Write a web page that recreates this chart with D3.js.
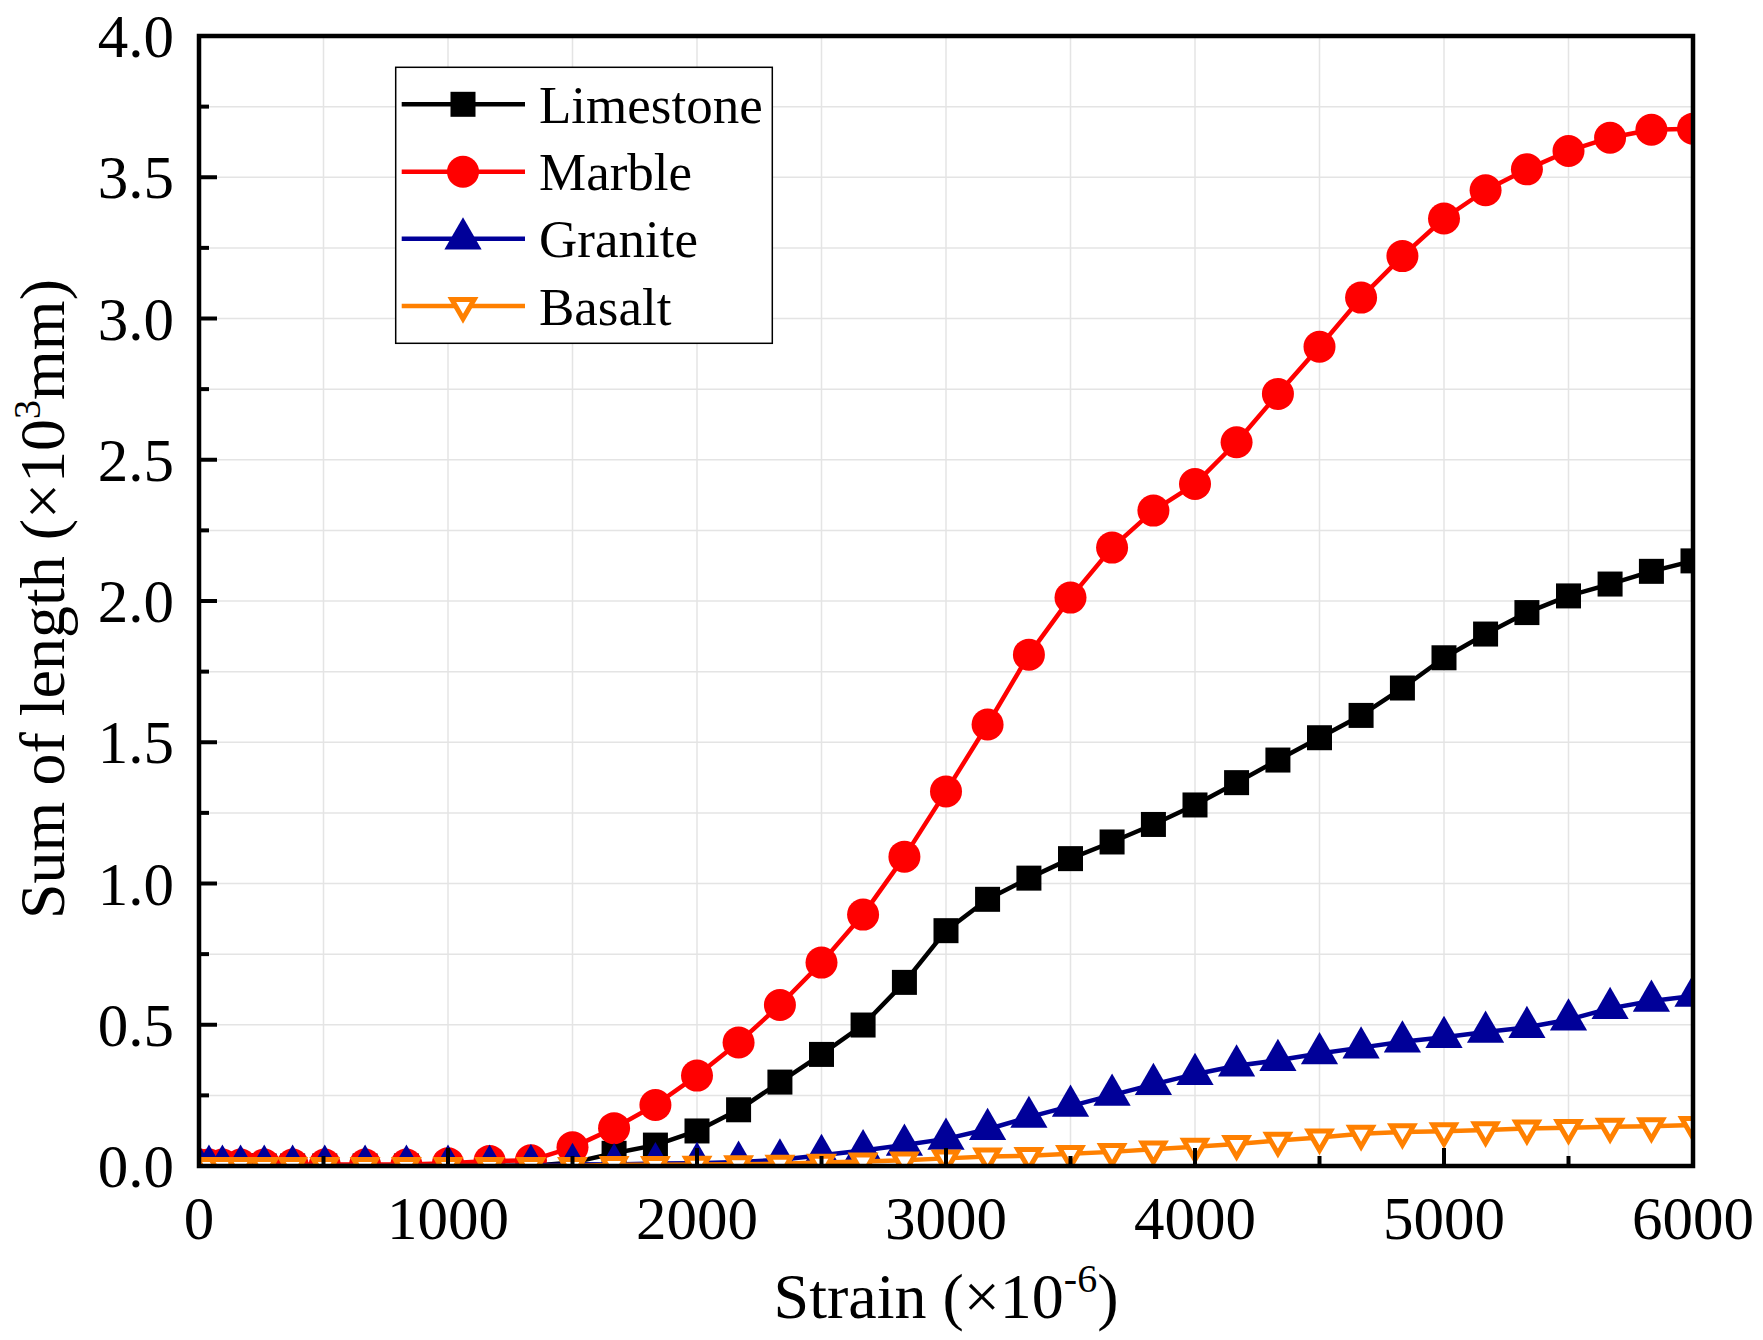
<!DOCTYPE html>
<html><head><meta charset="utf-8">
<script src="https://cdn.jsdelivr.net/npm/d3@7"></script>
<style>
body{margin:0;background:#fff}
svg{display:block}
text{font-family:"Liberation Serif","Times New Roman",serif;fill:#000}
</style>
</head><body>
<svg id="chart" width="1763" height="1340"></svg>
<script>
// ---- data ----
const strain = [0, 40, 94, 167, 262, 376, 505, 667, 833, 1000, 1167, 1333, 1500, 1667, 1833, 2000, 2167, 2333, 2500, 2667, 2833, 3000, 3167, 3333, 3500, 3667, 3833, 4000, 4167, 4333, 4500, 4667, 4833, 5000, 5167, 5333, 5500, 5667, 5833, 6000];
const limestone = [0, 0, 0, 0, 0, 0, 0, 0, 0, 0, 0, 0, 0.012, 0.045, 0.074, 0.124, 0.199, 0.297, 0.395, 0.499, 0.65, 0.833, 0.944, 1.019, 1.088, 1.147, 1.209, 1.278, 1.357, 1.437, 1.516, 1.595, 1.692, 1.799, 1.883, 1.959, 2.018, 2.06, 2.105, 2.142];
const marble = [0.005, 0.005, 0.005, 0.005, 0.005, 0.005, 0.005, 0.005, 0.005, 0.01, 0.018, 0.02, 0.066, 0.134, 0.216, 0.32, 0.437, 0.57, 0.72, 0.89, 1.095, 1.326, 1.563, 1.81, 2.012, 2.189, 2.32, 2.414, 2.562, 2.733, 2.9, 3.074, 3.221, 3.354, 3.454, 3.528, 3.593, 3.64, 3.668, 3.672];
const granite = [0, 0, 0, 0, 0, 0, 0, 0, 0, 0, 0, 0.002, 0.006, 0.005, 0.009, 0.01, 0.014, 0.022, 0.038, 0.055, 0.074, 0.096, 0.13, 0.173, 0.212, 0.251, 0.289, 0.325, 0.355, 0.374, 0.398, 0.419, 0.44, 0.456, 0.474, 0.491, 0.518, 0.558, 0.584, 0.602];
const basalt = [0, 0, 0, 0, 0, 0, 0, 0, 0, 0, 0, 0, 0, 0.004, 0.004, 0.005, 0.006, 0.008, 0.012, 0.016, 0.02, 0.027, 0.034, 0.036, 0.043, 0.05, 0.059, 0.068, 0.078, 0.09, 0.101, 0.114, 0.12, 0.123, 0.127, 0.133, 0.135, 0.139, 0.141, 0.145];
const seriesNames = ["Limestone", "Marble", "Granite", "Basalt"];
const xTickValues = [0, 1000, 2000, 3000, 4000, 5000, 6000];
const xMinorValues = [500, 1500, 2500, 3500, 4500, 5500];
const yTickValues = [0, 0.5, 1.0, 1.5, 2.0, 2.5, 3.0, 3.5, 4.0];
const yMinorValues = [0.25, 0.75, 1.25, 1.75, 2.25, 2.75, 3.25, 3.75];
const xTitle = "Strain (×10";
const xTitleSup = "-6";
const yTitle = "Sum of length (×10";
const yTitleSup = "3";
const yTitleEnd = "mm)";

// ---- layout ----
const L = 199, T = 36, W = 1494, H = 1130;
const svg = d3.select("#chart");
const x = d3.scaleLinear().domain([0, 6000]).range([L, L + W]);
const y = d3.scaleLinear().domain([0, 4]).range([T + H, T]);

const styles = [
  {color: "#000000", shape: "square"},
  {color: "#ff0000", shape: "circle"},
  {color: "#000099", shape: "triangle"},
  {color: "#ff8000", shape: "downTriangle"}
];
const seriesData = [limestone, marble, granite, basalt];

// grid
const grid = svg.append("g");
grid.selectAll("line.gx").data(xMinorValues.concat(xTickValues.slice(1, -1)))
  .join("line").attr("x1", d => x(d)).attr("x2", d => x(d)).attr("y1", T).attr("y2", T + H)
  .attr("stroke", "#e4e4e4").attr("stroke-width", 1.5);
grid.selectAll("line.gy").data(yMinorValues.concat(yTickValues.slice(1, -1)))
  .join("line").attr("y1", d => y(d)).attr("y2", d => y(d)).attr("x1", L).attr("x2", L + W)
  .attr("stroke", "#e4e4e4").attr("stroke-width", 1.5);

// clip
svg.append("defs").append("clipPath").attr("id", "plotclip")
  .append("rect").attr("x", L).attr("y", T).attr("width", W).attr("height", H);

function drawMarker(g, shape, color, cx, cy) {
  if (shape === "square") {
    g.append("rect").attr("x", cx - 12.5).attr("y", cy - 12.5).attr("width", 25).attr("height", 25).attr("fill", color);
  } else if (shape === "circle") {
    g.append("circle").attr("cx", cx).attr("cy", cy).attr("r", 16).attr("fill", color);
  } else if (shape === "triangle") {
    g.append("path").attr("d", d3.symbol(d3.symbolTriangle).size(600)())
      .attr("transform", `translate(${cx},${cy})`).attr("fill", color);
  } else {
    g.append("path").attr("d", d3.symbol(d3.symbolTriangle).size(215)())
      .attr("transform", `translate(${cx},${cy}) rotate(180)`)
      .attr("fill", "#fff").attr("stroke", color).attr("stroke-width", 5).attr("stroke-linejoin", "miter");
  }
}

const plot = svg.append("g").attr("clip-path", "url(#plotclip)");
seriesData.forEach((vals, si) => {
  const st = styles[si];
  const pts = strain.map((s, i) => [s, vals[i]]);
  const g = plot.append("g");
  g.append("path").datum(pts)
    .attr("d", d3.line().x(d => x(d[0])).y(d => y(d[1])))
    .attr("fill", "none").attr("stroke", st.color).attr("stroke-width", 4.5).attr("stroke-linejoin", "round");
  pts.forEach(p => drawMarker(g, st.shape, st.color, x(p[0]), y(p[1])));
});

// frame
svg.append("rect").attr("x", L).attr("y", T).attr("width", W).attr("height", H)
  .attr("fill", "none").attr("stroke", "#000").attr("stroke-width", 4.5);

// ticks (inward)
const ax = svg.append("g").attr("stroke", "#000").attr("stroke-width", 4);
ax.selectAll("line.xM").data(xTickValues.slice(1, -1)).join("line")
  .attr("x1", d => x(d)).attr("x2", d => x(d)).attr("y1", T + H).attr("y2", T + H - 18);
ax.selectAll("line.xm").data(xMinorValues).join("line")
  .attr("x1", d => x(d)).attr("x2", d => x(d)).attr("y1", T + H).attr("y2", T + H - 10);
ax.selectAll("line.yM").data(yTickValues.slice(1, -1)).join("line")
  .attr("y1", d => y(d)).attr("y2", d => y(d)).attr("x1", L).attr("x2", L + 18);
ax.selectAll("line.ym").data(yMinorValues).join("line")
  .attr("y1", d => y(d)).attr("y2", d => y(d)).attr("x1", L).attr("x2", L + 10);

// tick labels
svg.append("g").selectAll("text").data(xTickValues).join("text")
  .attr("x", d => x(d)).attr("y", 1239).attr("text-anchor", "middle")
  .style("font-size", "61px").text(d => d3.format("d")(d));
svg.append("g").selectAll("text").data(yTickValues).join("text")
  .attr("x", 174).attr("y", d => y(d) + 21).attr("text-anchor", "end")
  .style("font-size", "61px").text(d => d3.format(".1f")(d));

// axis titles
const xt = svg.append("text").attr("x", x(3000)).attr("y", 1318).attr("text-anchor", "middle").style("font-size", "64px");
xt.append("tspan").text(xTitle);
xt.append("tspan").attr("dy", -26).style("font-size", "40px").text(xTitleSup);
xt.append("tspan").attr("dy", 26).text(")");

const yt = svg.append("text").attr("transform", `translate(64,${T + H / 2 - 2}) rotate(-90)`)
  .attr("text-anchor", "middle").style("font-size", "64px");
yt.append("tspan").text(yTitle);
yt.append("tspan").attr("dy", -24).style("font-size", "38px").text(yTitleSup);
yt.append("tspan").attr("dy", 24).text(yTitleEnd);

// legend
const lg = svg.append("g");
lg.append("rect").attr("x", 395.7).attr("y", 67.3).attr("width", 376.6).attr("height", 276)
  .attr("fill", "#fff").attr("stroke", "#000").attr("stroke-width", 1.5);
const rowY = [104.3, 171.7, 238.7, 306];
seriesNames.forEach((name, i) => {
  const st = styles[i];
  const gy = rowY[i];
  lg.append("line").attr("x1", 401.7).attr("x2", 525).attr("y1", gy).attr("y2", gy)
    .attr("stroke", st.color).attr("stroke-width", 4.5);
  drawMarker(lg, st.shape, st.color, 463, gy);
  lg.append("text").attr("x", 539).attr("y", gy + 18.5).style("font-size", "53px").text(name);
});
</script>
</body></html>
